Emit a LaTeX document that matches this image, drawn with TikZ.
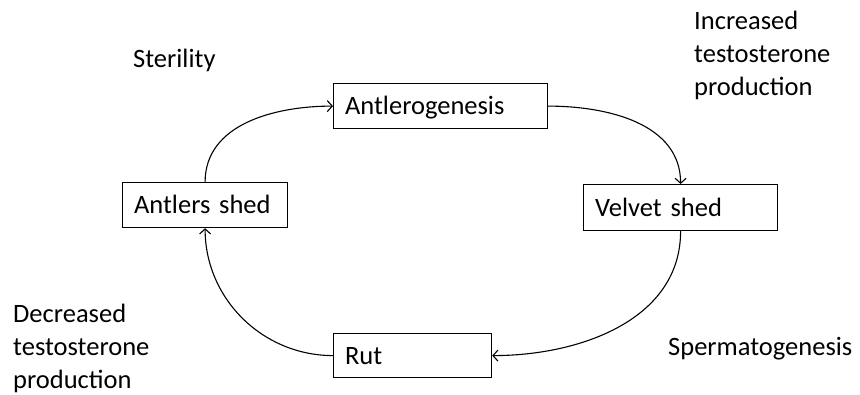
\documentclass[tikz,border=0pt]{standalone}
\usepackage{fontspec}
\setmainfont{Carlito}
\usetikzlibrary{arrows.meta}
\begin{document}
\begin{tikzpicture}[x=1pt,y=1pt,
  box/.style={draw, line width=1.2pt, anchor=north west, inner xsep=11.5pt, inner ysep=0pt, align=left, text height=19.5pt, text depth=2.5pt, font=\fontsize{26.5}{33}\selectfont},
  lbl/.style={inner sep=0pt, align=left, font=\fontsize{26.5}{33}\selectfont},
  conn/.style={line width=1.1pt, -{Straight Barb[length=5pt,width=11pt,line width=1.1pt]}}]
\useasboundingbox (0,0) rectangle (860,394);
\node[box, text width=214pt-23pt, minimum height=45pt] (ag) at (333,311) {Antlerogenesis};
\node[box, text width=165pt-23pt, minimum height=45pt] (as) at (122,212) {Antlers shed};
\node[box, text width=194pt-23pt, minimum height=46pt] (vs) at (583,210) {Velvet shed};
\node[box, text width=158pt-23pt, minimum height=44pt] (rut) at (333,61) {Rut};
\node[lbl, anchor=base west] (ster) at (133,326) {Sterility};
\node[lbl, anchor=north west] (inc) at (694,383) {Increased\\testosterone\\production};
\node[lbl, anchor=base west] (sperm) at (668,39) {Spermatogenesis};
\node[lbl, anchor=north west] (dec) at (13,90) {Decreased\\testosterone\\production};
\draw[conn] (as.north) to[out=90,in=180] (ag.west);
\draw[conn] (ag.east) to[out=0,in=90] (vs.north);
\draw[conn] (vs.south) to[out=-90,in=0] (rut.east);
\draw[conn] (rut.west) to[out=180,in=-90] (as.south);
\end{tikzpicture}
\end{document}
